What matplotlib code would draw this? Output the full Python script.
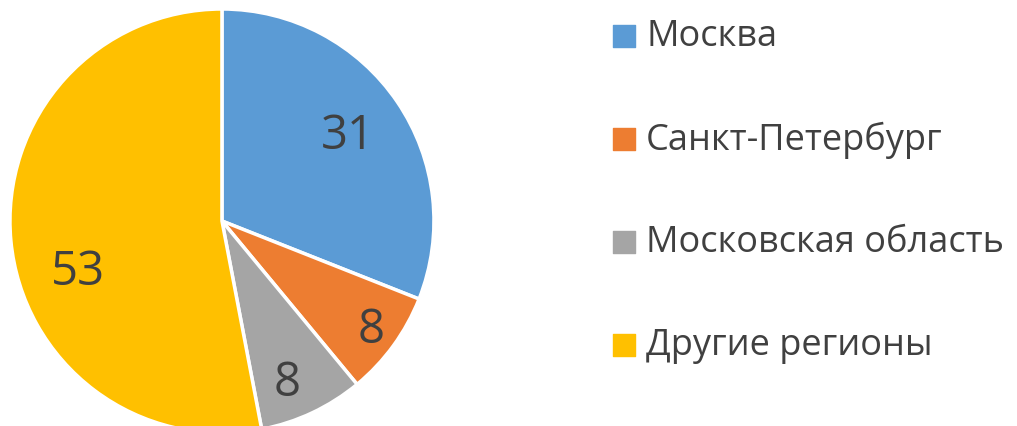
import numpy as np
import matplotlib
matplotlib.use('Agg')
import matplotlib.pyplot as plt

plt.rcParams['font.family'] = ['Open Sans', 'DejaVu Sans']

# chart data
regions = ['Москва', 'Санкт-Петербург', 'Московская область', 'Другие регионы']
shares = [31, 8, 8, 53]
colors = ['#5B9BD5', '#ED7D31', '#A5A5A5', '#FFC000']
# label placement: radial fraction and angular nudge (deg)
label_r = [0.72, 0.87, 0.82, 0.72]
label_shift = [0, 0, -3, 14]
text_color = '#404040'

fig = plt.figure(figsize=(10.17, 4.27), dpi=100)
ax = fig.add_axes([0.0098, -0.0164, 0.4169, 0.993])
wedges, _ = ax.pie(shares, colors=colors, startangle=90, counterclock=False,
                   wedgeprops=dict(edgecolor='white', linewidth=2.5))
ax.set_xlim(-1, 1)
ax.set_ylim(-1, 1)
ax.set_aspect('equal')

for w, val, r, sh in zip(wedges, shares, label_r, label_shift):
    theta = np.deg2rad((w.theta1 + w.theta2) / 2 + sh)
    ax.text(r * np.cos(theta), r * np.sin(theta), str(val), ha='center', va='center',
            fontsize=34, color=text_color)

# legend drawn by hand
lax = fig.add_axes([0, 0, 1, 1])
lax.set_xlim(0, 1017)
lax.set_ylim(427, 0)
lax.axis('off')
for i, (name, c) in enumerate(zip(regions, colors)):
    y = 37 + i * 103
    lax.scatter([624], [y], marker='s', s=230, color=c)
    lax.text(646, y, name, va='center', ha='left', fontsize=26, color=text_color)

fig.savefig('out.png', dpi=100)
